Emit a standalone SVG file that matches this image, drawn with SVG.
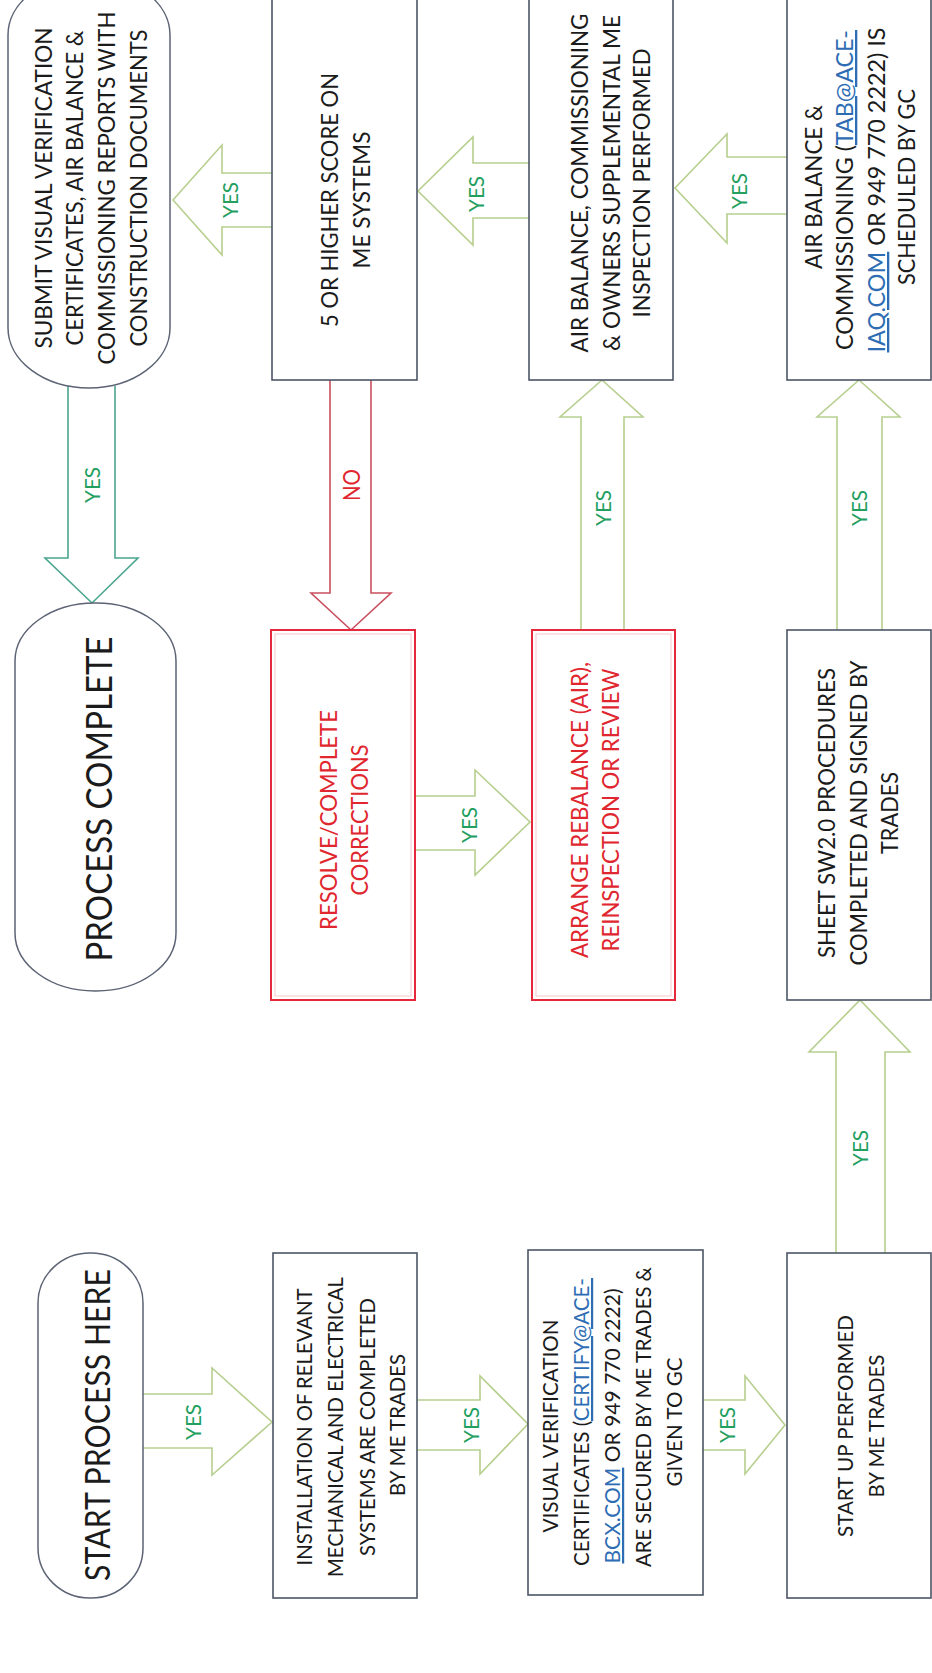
<svg xmlns="http://www.w3.org/2000/svg" width="932" height="1673" viewBox="0 0 932 1673">
<style>
.box{fill:#fff;stroke:#4d5566;stroke-width:1.6}
.rbox{fill:#fff;stroke:#e5283c;stroke-width:2}
.rin{fill:none;stroke:#f5c6cc;stroke-width:1}
.term{fill:#fff;stroke:#5b6374;stroke-width:1.5}
.arr{fill:#fff;stroke:#b7cf8e;stroke-width:1.6}
.arrt{fill:#fff;stroke:#4aa58f;stroke-width:1.6}
.arrr{fill:#fff;stroke:#c9505e;stroke-width:1.6}
.t{font-family:Lato,"Liberation Sans",sans-serif;font-size:23px;fill:#1b1b1b;text-anchor:middle}
.s{font-size:22px}
.big{font-size:36px}
.red{fill:#e0262e}
.lab{font-family:Lato,"Liberation Sans",sans-serif;font-size:21px;fill:#23a05f;text-anchor:middle}
.no{fill:#e0262e;font-size:23px}
.link{fill:#2e6db4;text-decoration:underline}
</style>
<rect width="932" height="1673" fill="#fff"/>
<g id="connectors">
<path class="arrt" d="M68,386 V558 H45 L92,603 L138,558 H115 V386"/>
<path class="arrr" d="M330,380 V593 H311 L351,630 L391,593 H371 V380"/>
<path class="arr" d="M272,173 H222 V145 L173,200 L222,255 V227 H272"/>
<path class="arr" d="M529,163 H473 V137 L418,191 L473,245 V218 H529"/>
<path class="arr" d="M787,157 H727 V134 L675,188 L727,243 V214 H787"/>
<path class="arr" d="M581,630 V417 H560 L602,380 L643,417 H624 V630"/>
<path class="arr" d="M837,630 V417 H817 L859,380 L900,417 H882 V630"/>
<path class="arr" d="M415,796 H475 V770 L530,822 L475,875 V850 H415"/>
<path class="arr" d="M836,1253 V1052 H809 L860,1000 L910,1052 H885 V1253"/>
<path class="arr" d="M143,1394 H212 V1368 L272,1422 L212,1475 V1448 H143"/>
<path class="arr" d="M417,1400 H480 V1376 L528,1424 L480,1474 V1450 H417"/>
<path class="arr" d="M703,1400 H745 V1376 L785,1425 L745,1474 V1450 H703"/>
<g transform="rotate(-90)">
<text class="lab" x="-485" y="100" textLength="36" lengthAdjust="spacingAndGlyphs">YES</text>
<text class="lab no" x="-485" y="360" textLength="32" lengthAdjust="spacingAndGlyphs">NO</text>
<text class="lab" x="-200" y="238" textLength="36" lengthAdjust="spacingAndGlyphs">YES</text>
<text class="lab" x="-194" y="484" textLength="36" lengthAdjust="spacingAndGlyphs">YES</text>
<text class="lab" x="-191" y="747" textLength="36" lengthAdjust="spacingAndGlyphs">YES</text>
<text class="lab" x="-508" y="611" textLength="36" lengthAdjust="spacingAndGlyphs">YES</text>
<text class="lab" x="-508" y="867" textLength="36" lengthAdjust="spacingAndGlyphs">YES</text>
<text class="lab" x="-825" y="477" textLength="36" lengthAdjust="spacingAndGlyphs">YES</text>
<text class="lab" x="-1148" y="868" textLength="36" lengthAdjust="spacingAndGlyphs">YES</text>
<text class="lab" x="-1422" y="201" textLength="36" lengthAdjust="spacingAndGlyphs">YES</text>
<text class="lab" x="-1425" y="479" textLength="36" lengthAdjust="spacingAndGlyphs">YES</text>
<text class="lab" x="-1425" y="735" textLength="36" lengthAdjust="spacingAndGlyphs">YES</text>
</g>
</g>
<g id="submit">
<rect class="term" x="8" y="-25" width="162" height="413" rx="81" ry="60"/>
<g transform="rotate(-90)">
<text class="t" x="-188" y="52" textLength="321" lengthAdjust="spacingAndGlyphs">SUBMIT VISUAL VERIFICATION</text>
<text class="t" x="-188" y="83" textLength="315" lengthAdjust="spacingAndGlyphs">CERTIFICATES, AIR BALANCE &amp;</text>
<text class="t" x="-188" y="115" textLength="353" lengthAdjust="spacingAndGlyphs">COMMISSIONING REPORTS WITH</text>
<text class="t" x="-188" y="147" textLength="317" lengthAdjust="spacingAndGlyphs">CONSTRUCTION DOCUMENTS</text>
</g>
</g>
<g id="process-complete">
<rect class="term" x="15" y="603" width="161" height="388" rx="80" ry="58"/>
<g transform="rotate(-90)">
<text class="t big" x="-799" y="112" textLength="325" lengthAdjust="spacingAndGlyphs">PROCESS COMPLETE</text>
</g>
</g>
<g id="start">
<rect class="term" x="38" y="1253" width="105" height="345" rx="52" ry="50"/>
<g transform="rotate(-90)">
<text class="t" style="font-size:34px" x="-1425" y="110" textLength="312" lengthAdjust="spacingAndGlyphs">START PROCESS HERE</text>
</g>
</g>
<g id="score">
<rect class="box" x="272" y="-2" width="145" height="382"/>
<g transform="rotate(-90)">
<text class="t" x="-200" y="338" textLength="254" lengthAdjust="spacingAndGlyphs">5 OR HIGHER SCORE ON</text>
<text class="t" x="-200" y="370" textLength="137" lengthAdjust="spacingAndGlyphs">ME SYSTEMS</text>
</g>
</g>
<g id="airbalance-inspection">
<rect class="box" x="529" y="-2" width="144" height="382"/>
<g transform="rotate(-90)">
<text class="t" x="-183" y="588" textLength="339" lengthAdjust="spacingAndGlyphs">AIR BALANCE, COMMISSIONING</text>
<text class="t" x="-183" y="620" textLength="336" lengthAdjust="spacingAndGlyphs">&amp; OWNERS SUPPLEMENTAL ME</text>
<text class="t" x="-183" y="650" textLength="269" lengthAdjust="spacingAndGlyphs">INSPECTION PERFORMED</text>
</g>
</g>
<g id="tab-scheduled">
<rect class="box" x="787" y="-2" width="144" height="382"/>
<g transform="rotate(-90)">
<text class="t" x="-187" y="822" textLength="164" lengthAdjust="spacingAndGlyphs">AIR BALANCE &amp;</text>
<text class="t" x="-190" y="853" textLength="320" lengthAdjust="spacingAndGlyphs">COMMISSIONING (<tspan class="link">TAB@ACE-</tspan></text>
<text class="t" x="-190" y="885" textLength="325" lengthAdjust="spacingAndGlyphs"><tspan class="link">IAQ.COM</tspan> OR 949 770 2222) IS</text>
<text class="t" x="-187" y="915" textLength="196" lengthAdjust="spacingAndGlyphs">SCHEDULED BY GC</text>
</g>
</g>
<g id="resolve">
<rect class="rbox" x="271" y="630" width="144" height="370"/>
<rect class="rin" x="275" y="634" width="136" height="362"/>
<g transform="rotate(-90)">
<text class="t red" x="-820" y="337" textLength="220" lengthAdjust="spacingAndGlyphs">RESOLVE/COMPLETE</text>
<text class="t red" x="-820" y="368" textLength="151" lengthAdjust="spacingAndGlyphs">CORRECTIONS</text>
</g>
</g>
<g id="arrange">
<rect class="rbox" x="532" y="630" width="143" height="370"/>
<rect class="rin" x="536" y="634" width="135" height="362"/>
<g transform="rotate(-90)">
<text class="t red" x="-810" y="588" textLength="296" lengthAdjust="spacingAndGlyphs">ARRANGE REBALANCE (AIR),</text>
<text class="t red" x="-810" y="619" textLength="283" lengthAdjust="spacingAndGlyphs">REINSPECTION OR REVIEW</text>
</g>
</g>
<g id="sw20">
<rect class="box" x="787" y="630" width="144" height="370"/>
<g transform="rotate(-90)">
<text class="t" x="-813" y="835" textLength="290" lengthAdjust="spacingAndGlyphs">SHEET SW2.0 PROCEDURES</text>
<text class="t" x="-813" y="867" textLength="305" lengthAdjust="spacingAndGlyphs">COMPLETED AND SIGNED BY</text>
<text class="t" x="-813" y="898" textLength="82" lengthAdjust="spacingAndGlyphs">TRADES</text>
</g>
</g>
<g id="installation">
<rect class="box" x="273" y="1253" width="144" height="345"/>
<g transform="rotate(-90)">
<text class="t s" x="-1427" y="312" textLength="277" lengthAdjust="spacingAndGlyphs">INSTALLATION OF RELEVANT</text>
<text class="t s" x="-1427" y="343" textLength="300" lengthAdjust="spacingAndGlyphs">MECHANICAL AND ELECTRICAL</text>
<text class="t s" x="-1427" y="375" textLength="258" lengthAdjust="spacingAndGlyphs">SYSTEMS ARE COMPLETED</text>
<text class="t s" x="-1425" y="405" textLength="142" lengthAdjust="spacingAndGlyphs">BY ME TRADES</text>
</g>
</g>
<g id="visual-verification">
<rect class="box" x="528" y="1250" width="175" height="345"/>
<g transform="rotate(-90)">
<text class="t s" x="-1426" y="558" textLength="213" lengthAdjust="spacingAndGlyphs">VISUAL VERIFICATION</text>
<text class="t s" x="-1422" y="589" textLength="288" lengthAdjust="spacingAndGlyphs">CERTIFICATES (<tspan class="link">CERTIFY@ACE-</tspan></text>
<text class="t s" x="-1426" y="620" textLength="275" lengthAdjust="spacingAndGlyphs"><tspan class="link">BCX.COM</tspan> OR 949 770 2222)</text>
<text class="t s" x="-1417" y="651" textLength="300" lengthAdjust="spacingAndGlyphs">ARE SECURED BY ME TRADES &amp;</text>
<text class="t s" x="-1422" y="682" textLength="129" lengthAdjust="spacingAndGlyphs">GIVEN TO GC</text>
</g>
</g>
<g id="startup">
<rect class="box" x="787" y="1253" width="144" height="345"/>
<g transform="rotate(-90)">
<text class="t s" x="-1426" y="853" textLength="222" lengthAdjust="spacingAndGlyphs">START UP PERFORMED</text>
<text class="t s" x="-1426" y="884" textLength="143" lengthAdjust="spacingAndGlyphs">BY ME TRADES</text>
</g>
</g>
</svg>
